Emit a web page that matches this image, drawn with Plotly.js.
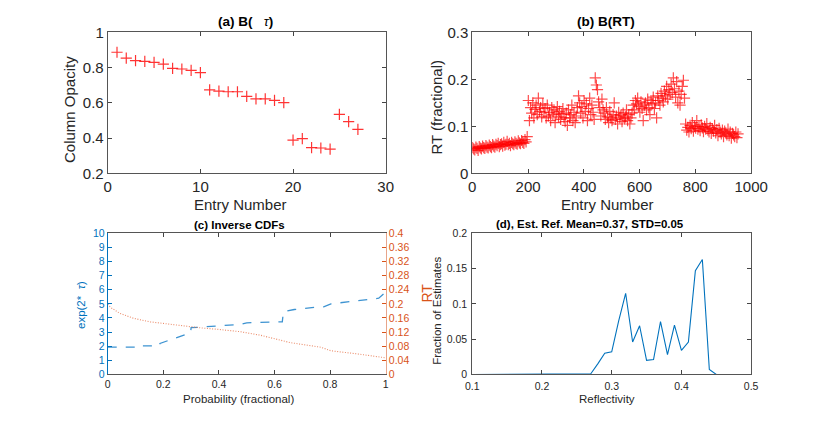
<!DOCTYPE html>
<html><head><meta charset="utf-8">
<script src="https://cdn.plot.ly/plotly-3.0.1.min.js"></script>
<style>html,body{margin:0;padding:0;background:#fff}#chart{width:830px;height:425px}</style>
</head><body><div id="chart"></div><script>
// (a) column opacity per entry
const opacityEntry = [1,2,3,4,5,6,7,8,9,10,11,12,13,14,15,16,17,18,19,20,21,22,23,24,25,26,27];
const columnOpacity = [0.887,0.854,0.839,0.835,0.830,0.820,0.796,0.792,0.784,0.771,
  0.673,0.667,0.663,0.663,0.637,0.622,0.622,0.614,0.601,0.389,0.397,0.346,0.344,0.338,0.535,0.493,0.450];

// (b) RT per entry (every 4th entry)
const rtValues = [
  0.055,0.052,0.050,0.056,0.053,0.049,0.057,0.054,0.052,0.058,
  0.055,0.053,0.059,0.056,0.054,0.060,0.057,0.055,0.061,0.058,
  0.056,0.062,0.059,0.064,0.057,0.061,0.063,0.058,0.066,0.060,
  0.062,0.068,0.061,0.064,0.059,0.066,0.063,0.061,0.067,0.064,
  0.062,0.069,0.065,0.063,0.070,0.066,0.064,0.072,0.067,0.078,
  0.155,0.112,0.140,0.128,0.150,0.118,0.136,0.145,0.125,0.160,0.132,0.140,0.120,0.148,0.130,
  0.138,0.118,0.145,0.122,0.130,0.112,0.140,0.125,0.135,0.108,0.128,0.142,0.120,0.132,0.115,0.126,0.138,0.118,
  0.110,0.128,0.102,0.135,0.118,0.125,0.145,0.112,0.130,0.108,0.122,0.140,
  0.165,0.150,0.128,0.142,0.118,0.155,0.132,0.148,0.112,0.138,0.160,0.125,0.145,0.130,0.115,0.203,0.188,0.178,0.152,0.140,0.122,0.158,0.135,
  0.128,0.115,0.140,0.120,0.108,0.132,0.118,0.112,0.125,0.150,0.115,0.122,0.105,0.130,0.118,0.124,0.110,0.128,0.116,0.120,0.135,0.112,0.125,0.105,0.118,
  0.128,0.145,0.135,0.155,0.148,0.160,0.142,0.130,0.152,0.138,
  0.112,0.145,0.150,0.135,0.158,0.140,0.125,0.155,0.148,0.162,
  0.138,0.150,0.118,0.165,0.155,0.145,0.170,0.160,0.152,0.175,
  0.165,0.185,0.158,0.178,0.168,0.190,0.172,0.203,0.180,0.162,
  0.195,0.150,0.175,0.145,0.168,0.185,0.198,0.160,
  0.105,0.092,0.098,0.088,0.102,0.095,0.108,0.090,0.100,0.096,
  0.112,0.094,0.099,0.091,0.103,0.097,0.089,0.100,0.094,0.106,
  0.092,0.088,0.098,0.085,0.095,0.090,0.102,0.086,0.093,0.080,
  0.096,0.088,0.084,0.092,0.078,0.090,0.086,0.082,0.094,0.080,
  0.088,0.075,0.085,0.082,0.078,0.088,0.076,0.084];
const rtEntry = rtValues.map((v, i) => 1 + 4 * i);

// (c) inverse CDFs
const cdfProb = [0,0.105,0.107,0.185,0.188,0.298,0.300,0.37,0.40,0.48,0.50,0.628,0.632,0.671,0.743,0.779,0.803,0.875,0.96,0.975,1.0];
const cdfExpTau = [1.93,1.93,2.02,2.02,2.2,2.95,3.31,3.40,3.45,3.55,3.66,3.73,4.44,4.6,4.75,4.8,5.0,5.15,5.34,5.4,5.85];
const rtProb = [0,0.01,0.044,0.093,0.153,0.213,0.334,0.394,0.478,0.55,0.598,0.658,0.767,0.803,0.9,1.0];
const rtInvCdf = [0.199,0.19,0.173,0.159,0.149,0.143,0.132,0.128,0.121,0.111,0.102,0.090,0.077,0.067,0.058,0.047];

// (d) reflectivity histogram
const reflectivity = [0.10,0.11,0.12,0.13,0.14,0.15,0.16,0.17,0.18,0.19,0.20,0.21,0.22,0.23,0.24,0.25,0.26,0.27,0.28,0.29,
  0.30,0.31,0.32,0.33,0.34,0.35,0.36,0.37,0.38,0.39,0.40,0.41,0.42,0.43,0.44,0.45,0.46,0.47,0.48,0.49,0.50];
const fraction = [0,0,0,0,0,0,0,0,0,0,0.0005,0,0,0,0,0,0,0.001,0.015,0.030,
  0.032,0.076,0.115,0.046,0.069,0.020,0.021,0.075,0.028,0.070,0.034,0.046,0.147,0.163,0.007,0,0,0,0,0,0];

const FONT = 'Liberation Sans, Arial, sans-serif';
const TXT = '#262626';
const BLUE = '#0072BD';
const ORANGE = '#D95319';

const traces = [
  {x: opacityEntry, y: columnOpacity, xaxis:'x', yaxis:'y', mode:'markers', type:'scatter',
   marker:{symbol:'cross-thin-open', size:8, color:'rgba(255,0,0,0.8)', line:{color:'rgba(255,0,0,0.8)', width:1.2}}},
  {x: rtEntry, y: rtValues, xaxis:'x2', yaxis:'y2', mode:'markers', type:'scatter',
   marker:{symbol:'cross-thin-open', size:8, color:'rgba(255,0,0,0.7)', line:{color:'rgba(255,0,0,0.7)', width:1.2}}},
  {x: cdfProb, y: cdfExpTau, xaxis:'x3', yaxis:'y3', mode:'lines', type:'scatter',
   line:{color:'#3d93d1', width:1.3, dash:'dash'}},
  {x: rtProb, y: rtInvCdf, xaxis:'x3', yaxis:'y4', mode:'lines', type:'scatter',
   line:{color:'rgba(232,120,80,0.85)', width:1.1, dash:'1px,1.6px'}},
  {x: reflectivity, y: fraction, xaxis:'x4', yaxis:'y5', mode:'lines', type:'scatter',
   line:{color:BLUE, width:1.1}}
];

function ax(extra, size){
  return Object.assign({showline:true, linecolor:'#555', linewidth:1, mirror:'ticks', ticks:'inside',
    ticklen:4, tickcolor:'#444', tickwidth:1, showgrid:false, zeroline:false, fixedrange:true,
    tickfont:{family:FONT, size:size, color:TXT}}, extra);
}

const xa = [0.1298, 0.4647], xb = [0.569, 0.905];
const yt = [0.592, 0.924], yb = [0.119, 0.451];

function note(text, xp, yp, size, color, angle){
  return {text:text, x:xp/830, y:1-yp/425, xref:'paper', yref:'paper', xanchor:'center', yanchor:'middle',
    showarrow:false, textangle:angle||0, font:{family:FONT, size:size, color:color}};
}

const layout = {
  width:830, height:425, margin:{l:0,r:0,t:0,b:0}, showlegend:false,
  paper_bgcolor:'#fff', plot_bgcolor:'#fff',
  xaxis: ax({domain:xa, range:[0,30], dtick:10, tick0:0, anchor:'y'}, 15),
  yaxis: ax({domain:yt, range:[0.2,1], dtick:0.2, tick0:0.2, anchor:'x'}, 15),
  xaxis2: ax({domain:xb, range:[0,1000], dtick:200, tick0:0, anchor:'y2'}, 15),
  yaxis2: ax({domain:yt, range:[0,0.3], dtick:0.1, tick0:0, anchor:'x2'}, 15),
  xaxis3: ax({domain:xa, range:[0,1], dtick:0.2, tick0:0, anchor:'y3'}, 10.5),
  yaxis3: ax({domain:yb, range:[0,10], dtick:1, tick0:0, anchor:'x3', mirror:false,
     linecolor:BLUE, tickcolor:BLUE, tickfont:{family:FONT, size:10.5, color:BLUE}}, 10.5),
  yaxis4: ax({range:[0,0.4], dtick:0.04, tick0:0, anchor:'x3', overlaying:'y3', side:'right', mirror:false,
     linecolor:'#e8a58a', tickcolor:ORANGE, tickfont:{family:FONT, size:10.5, color:ORANGE}}, 10.5),
  xaxis4: ax({domain:xb, range:[0.1,0.5], dtick:0.1, tick0:0.1, anchor:'y5', ticklabelstandoff:2}, 10.5),
  yaxis5: ax({domain:yb, range:[0,0.2], dtick:0.05, tick0:0, anchor:'x4', ticklabelstandoff:2}, 10.5),
  annotations: [
    note('<b>(a) B(</b>   <i>τ</i><b>)</b>', 245.7, 21, 13.5, '#000'),
    note('<b>(b) B(RT)</b>', 606, 21, 13.5, '#000'),
    note('<b>(c) Inverse CDFs</b>', 239, 225, 11.5, '#000'),
    note('<b>(d), Est. Ref. Mean=0.37, STD=0.05</b>', 590, 224, 11.5, '#000'),
    note('Entry Number', 240.5, 204, 15, TXT),
    note('Entry Number', 607, 204, 15, TXT),
    note('Column Opacity', 70, 110, 15, TXT, -90),
    note('RT (fractional)', 436, 107.5, 15, TXT, -90),
    note('Probability (fractional)', 238, 399, 11.5, TXT),
    note('Reflectivity', 607, 399, 11.5, TXT),
    note('exp(2*  <i>τ</i>)', 81, 305, 11.5, BLUE, -90),
    note('RT', 426.5, 293, 14, ORANGE, -90),
    note('Fraction of Estimates', 437, 310.8, 11.5, TXT, -90)
  ]
};

Plotly.newPlot('chart', traces, layout, {staticPlot:true, displayModeBar:false});
</script></body></html>
